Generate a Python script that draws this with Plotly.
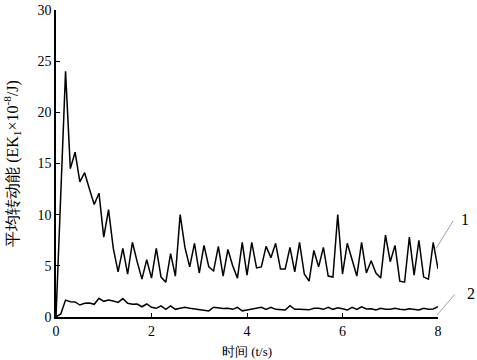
import plotly.graph_objects as go

time_s = [round(i * 0.1, 1) for i in range(81)]

curve1 = [0, 12.0, 24.0, 14.5, 16.1, 13.2, 14.1, 12.5, 11.0, 12.1,
          7.8, 10.5, 6.7, 4.4, 6.7, 4.2, 7.3, 5.4, 3.7, 5.6,
          3.8, 6.7, 3.9, 3.4, 6.2, 4.0, 10.0, 6.8, 4.9, 7.2,
          4.3, 7.0, 4.9, 4.5, 6.9, 4.0, 6.6, 5.0, 3.8, 7.3,
          4.1, 7.3, 4.8, 4.9, 6.9, 5.8, 7.2, 4.7, 4.7, 6.8,
          4.4, 7.3, 4.2, 3.5, 6.5, 4.9, 6.8, 4.0, 3.9, 10.0,
          4.2, 7.2, 5.6, 4.0, 7.3, 4.3, 5.5, 4.3, 3.8, 8.0,
          5.4, 7.0, 3.5, 3.4, 7.8, 4.1, 7.5, 3.9, 3.7, 7.3,
          4.7]

curve2 = [0, 0.3, 1.65, 1.5, 1.47, 1.17, 1.34, 1.37, 1.24, 1.83,
          1.53, 1.66, 1.57, 1.43, 1.8, 1.34, 1.24, 1.27, 1.0, 1.27,
          0.95, 0.85, 1.08, 0.75, 1.08, 0.75, 0.85, 0.95, 0.85, 0.8,
          0.75, 0.68, 0.59, 0.95, 0.85, 0.82, 0.85, 0.75, 0.95, 0.6,
          0.68, 0.78, 0.85, 0.95, 0.75, 0.95, 0.75, 0.75, 0.68, 1.1,
          0.75, 0.75, 0.7, 0.7, 0.85, 0.85, 0.75, 0.95, 0.75, 0.9,
          0.8, 0.68, 0.95, 0.75, 1.0, 0.78, 0.8, 0.68, 0.85, 0.75,
          0.75, 0.85, 0.75, 0.7, 0.8, 0.75, 0.68, 0.85, 0.75, 0.78,
          1.0]

x_ticks = [0, 2, 4, 6, 8]
y_ticks = [0, 5, 10, 15, 20, 25, 30]

FONT = "Liberation Serif"

fig = go.Figure()
fig.add_trace(go.Scatter(x=time_s, y=curve1, mode="lines",
                         line=dict(color="black", width=1.5), showlegend=False))
fig.add_trace(go.Scatter(x=time_s, y=curve2, mode="lines",
                         line=dict(color="black", width=1.5), showlegend=False))

fig.update_layout(
    width=477, height=360,
    margin=dict(l=56, r=39, t=10, b=43),
    paper_bgcolor="white", plot_bgcolor="white",
    font=dict(family=FONT, size=14, color="black"),
    xaxis=dict(range=[0, 8], tickvals=x_ticks, ticks="inside", ticklen=4,
               tickwidth=1.2, tickcolor="black", showline=True, linecolor="black",
               linewidth=1.5, showgrid=False, zeroline=False, automargin=False,
               title=dict(text="时间 (t/s)", font=dict(size=13, color="black"),
                          standoff=9)),
    yaxis=dict(range=[0, 30], tickvals=y_ticks, ticks="inside", ticklen=4,
               tickwidth=1.2, tickcolor="black", showline=True, linecolor="black",
               linewidth=1.5, showgrid=False, zeroline=False, automargin=False,
               title=dict(text="平均转动能 (EK<sub>1</sub>×10<sup>-8</sup>/J)",
                          font=dict(size=16, color="black"), standoff=15)),
)

fig.add_annotation(x=7.96, y=6.7, ax=18, ay=-29, text="", showarrow=True,
                   arrowhead=0, arrowwidth=0.8, arrowcolor="#888888")
fig.add_annotation(x=7.98, y=0.2, ax=19, ay=-22, text="", showarrow=True,
                   arrowhead=0, arrowwidth=0.8, arrowcolor="#888888")
fig.add_annotation(xref="paper", yref="paper", x=1.071, y=0.316, text="1",
                   showarrow=False, font=dict(size=16),
                   xanchor="center", yanchor="middle")
fig.add_annotation(xref="paper", yref="paper", x=1.086, y=0.078, text="2",
                   showarrow=False, font=dict(size=16),
                   xanchor="center", yanchor="middle")

fig.write_html("out.html", config={"displayModeBar": False},
               post_script="document.body.style.margin='0';")
